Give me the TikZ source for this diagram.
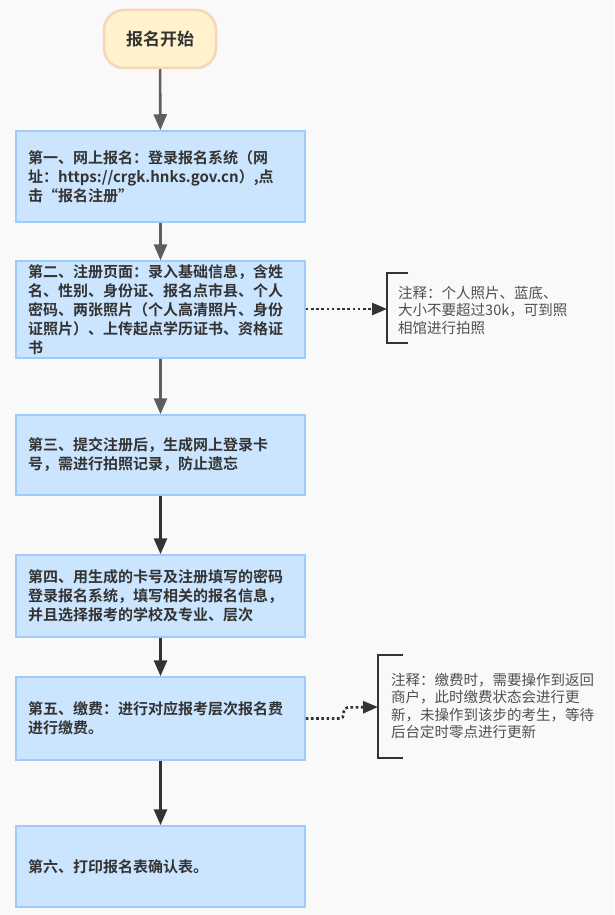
\documentclass[tikz,border=0pt]{standalone}
\usepackage{fontspec}
\setmainfont{Noto Sans CJK SC}[BoldFont={Noto Sans CJK SC Bold}]
\usetikzlibrary{arrows.meta}
\definecolor{pagebg}{HTML}{F9F9F9}
\definecolor{stepfill}{HTML}{CCE5FF}
\definecolor{stepline}{HTML}{9FCBFA}
\definecolor{startfill}{HTML}{FFF2CC}
\definecolor{startline}{HTML}{F8D5B8}
\definecolor{textgray}{HTML}{333333}
\definecolor{notegray}{HTML}{505050}
\definecolor{flowgray}{HTML}{5E5E5E}
\definecolor{flowdark}{HTML}{333333}
\tikzset{
  stepbox/.style={draw=stepline, fill=stepfill, line width=1.5pt,
    minimum width=289pt, text width=265pt, align=left, inner xsep=12pt,
    font=\fontsize{15}{19}\selectfont\bfseries, text=textgray},
  startbox/.style={draw=startline, fill=startfill, line width=2.5pt,
    rounded corners=20pt, minimum width=112pt, minimum height=58pt,
    font=\fontsize{17}{20}\selectfont\bfseries, text=textgray},
  notetext/.style={align=left, inner sep=0pt, anchor=west,
    font=\fontsize{14.5}{17.5}\selectfont, text=notegray},
  flow/.style={draw=flowgray, line width=2.6pt, -{Triangle[length=16pt,width=13pt]}},
  flowthick/.style={draw=flowdark, line width=3pt, -{Triangle[length=16pt,width=13pt]}},
  notelink/.style={draw=flowdark, line width=2.6pt, dash pattern=on 2.6pt off 2.6pt,
    -{Triangle[length=15pt,width=12pt]}},
  bracket/.style={draw=flowdark, line width=2.6pt},
}
\begin{document}
\begin{tikzpicture}[x=1pt, y=-1pt]
  \fill[pagebg] (0,0) rectangle (614,915);
  \node[startbox] (start) at (160, 39) {报名开始};
  \node[stepbox, minimum height=91pt] (s1) at (160.5, 176.5)
    {第一、网上报名：登录报名系统（网\\址：https://crgk.hnks.gov.cn）,点\\击“报名注册”};
  \node[stepbox, minimum height=93pt] (s2) at (160.5, 309.5)
    {第二、注册页面：录入基础信息，含姓\\名、性别、身份证、报名点市县、个人\\密码、两张照片（个人高清照片、身份\\证照片）、上传起点学历证书、资格证\\书};
  \node[stepbox, minimum height=80pt] (s3) at (160.5, 455)
    {第三、提交注册后，生成网上登录卡\\号，需进行拍照记录，防止遗忘};
  \node[stepbox, minimum height=82pt] (s4) at (160.5, 596)
    {第四、用生成的卡号及注册填写的密码\\登录报名系统，填写相关的报名信息，\\并且选择报考的学校及专业、层次};
  \node[stepbox, minimum height=83pt] (s5) at (160.5, 718.5)
    {第五、缴费：进行对应报考层次报名费\\进行缴费。};
  \node[stepbox, minimum height=81pt] (s6) at (160.5, 866.5)
    {第六、打印报名表确认表。};
  \coordinate (br1) at (387, 309);
  \coordinate (br2) at (378, 707);
  \node[notetext] (n1) at (398, 310)
    {注释：个人照片、蓝底、\\大小不要超过30k，可到照\\相馆进行拍照};
  \node[notetext] (n2) at (391, 706)
    {注释：缴费时，需要操作到返回\\商户，此时缴费状态会进行更\\新，未操作到该步的考生，等待\\后台定时零点进行更新};
  \draw[flow] (start) -- (s1);
  \draw[flow] (s1) -- (s2);
  \draw[flow] (s2) -- (s3);
  \draw[flowthick] (s3) -- (s4);
  \draw[flowthick] (s4) -- (s5);
  \draw[flowthick] (s5) -- (s6);
  \draw[notelink] (s2.east |- br1) -- (br1);
  \draw[notelink, rounded corners=4pt] (s5.east) -- ++(38,0) -- ++(0,-11) -- (br2);
  \draw[bracket] (br1) ++(21,-36) -- ++(-21,0) -- ++(0,70) -- ++(21,0);
  \draw[bracket] (br2) ++(25,-52) -- ++(-25,0) -- ++(0,103) -- ++(25,0);
\end{tikzpicture}
\end{document}
